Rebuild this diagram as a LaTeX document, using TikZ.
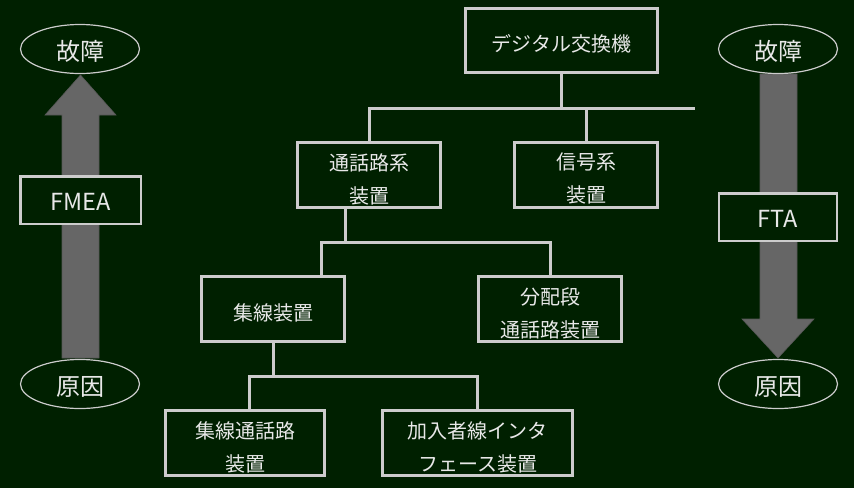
\documentclass[tikz,border=0pt]{standalone}
\usepackage{fontspec}
\setmainfont{Noto Sans CJK JP}
\usetikzlibrary{shapes.geometric}
\definecolor{bg}{RGB}{0,32,0}
\definecolor{ln}{RGB}{204,204,204}
\definecolor{tx}{RGB}{232,232,232}
\definecolor{ar}{RGB}{102,102,102}
\begin{document}
\begin{tikzpicture}[x=1pt,y=-1pt,
  box/.style={draw=ln, line width=3pt, fill=bg, text=tx, inner sep=0pt, align=center,
    font=\fontsize{20}{33}\selectfont, minimum height=65pt, text height=24pt, text depth=1.2pt},
  box2/.style={box, text height=57pt, text depth=0.8pt},
  oval/.style={ellipse, draw=ln, line width=1.2pt, fill=bg, text=tx, inner sep=0pt,
    minimum width=119pt, minimum height=49pt, font=\fontsize{24}{28}\selectfont,
    text height=24pt, text depth=1pt},
  lbox/.style={draw=ln, line width=2.5pt, fill=bg, text=tx, inner sep=0pt,
    minimum width=120.5pt, minimum height=47.5pt, font=\fontsize{23.5}{28}\selectfont,
    text height=22pt, text depth=0.2pt},
  conn/.style={draw=ln, line width=3pt, line join=miter},
  bigarrow/.style={fill=ar, draw=ar!85!black, line width=0.6pt}]
\useasboundingbox (0,0) rectangle (854,488);
\fill[bg] (0,0) rectangle (854,488);

% big arrows
\path[bigarrow] (62,358) -- (62,115) -- (45,115) -- (80.5,75) -- (116,115) -- (99,115) -- (99,358) -- cycle;
\path[bigarrow] (760,74) -- (760,319) -- (742,319) -- (778,358) -- (814,319) -- (797,319) -- (797,74) -- cycle;

% tree boxes
\node[box, minimum width=192pt, minimum height=64pt] (top) at (561.5,40.5) {デジタル交換機};
\node[box2, minimum width=143pt] (tsub) at (369,175) {通話路系\\装置};
\node[box2, minimum width=143pt] (sig) at (586,174.5) {信号系\\装置};
\node[box, minimum width=143pt] (shu) at (273,309) {集線装置};
\node[box2, minimum width=143pt] (bun) at (550,309) {分配段\\通話路装置};
\node[box2, minimum width=159pt] (shutsu) at (245,443) {集線通話路\\装置};
\node[box2, minimum width=190pt] (kanyu) at (477.5,443) {加入者線インタ\\フェース装置};

% connectors
\coordinate (r1) at (695,108);
\coordinate (j1) at (345,242);
\coordinate (j2) at (273,376);
\coordinate (a1) at (321,0);
\coordinate (a2) at (249,0);
\draw[conn] (top.south) -- (top.south |- r1);
\draw[conn] (tsub.north) |- (r1);
\draw[conn] (sig.north) -- (sig.north |- r1);
\draw[conn] (j1 |- tsub.south) -- (j1);
\draw[conn] (a1 |- shu.north) |- (j1) -| (bun.north);
\draw[conn] (shu.south) -- (j2);
\draw[conn] (a2 |- shutsu.north) |- (j2) -| (kanyu.north);

% side ovals and labels
\node[oval] (f1) at (80,49) {故障};
\node[oval] (g1) at (80,384) {原因};
\node[oval] (f2) at (778,49) {故障};
\node[oval] (g2) at (778,384) {原因};
\node[lbox] (fmea) at (80.5,200) {FMEA};
\node[lbox, minimum width=118pt] (fta) at (778,217) {FTA};
\end{tikzpicture}
\end{document}
